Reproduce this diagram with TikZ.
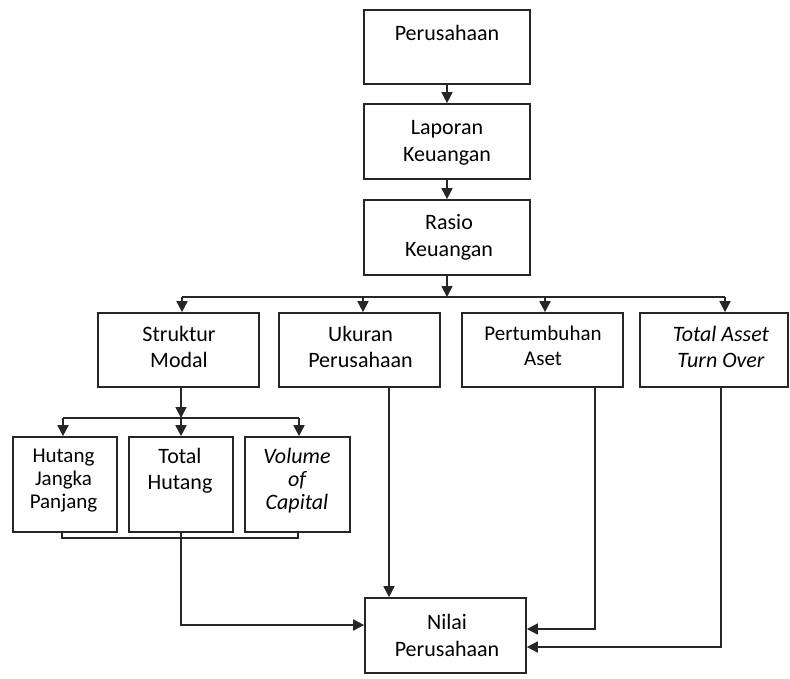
\documentclass[tikz,border=0pt]{standalone}
\usepackage{fontspec}
\setmainfont{Carlito}
\usetikzlibrary{arrows.meta,fit}
\begin{document}
\begin{tikzpicture}[x=1pt,y=-1pt,
  box/.style={draw=black!85, line width=1.7pt, inner sep=0pt, rectangle},
  txt/.style={align=center, inner sep=0pt, font=\fontsize{22}{27}\selectfont},
  txtb/.style={align=center, inner sep=0pt, font=\fontsize{22}{26}\selectfont},
  txts/.style={align=center, inner sep=0pt, font=\fontsize{21}{23}\selectfont},
  conn/.style={draw=black!85, line width=1.7pt},
  arr/.style={conn, -{Triangle[length=11pt,width=11pt]}}]
\useasboundingbox[fill=white] (0,0) rectangle (790,678);
% boxes
\node[box, fit={(364,10) (530,84)}] (per) {};
\node[box, fit={(364,104) (530,179)}] (lap) {};
\node[box, fit={(364,200) (530,275)}] (ras) {};
\node[box, fit={(98,313) (259,387)}] (sm) {};
\node[box, fit={(279,313) (440,387)}] (uk) {};
\node[box, fit={(462,313) (623,387)}] (pa) {};
\node[box, fit={(640,313) (788,387)}] (ta) {};
\node[box, fit={(13,437) (117,532)}] (hj) {};
\node[box, fit={(129,437) (233,532)}] (th) {};
\node[box, fit={(245,437) (350,532)}] (vc) {};
\node[box, fit={(365,598) (526,673)}] (np) {};
% texts
\node[txt] (per-t) at (447,33) {Perusahaan};
\node[txt] (lap-t) at (447,142.5) {Laporan\\Keuangan};
\node[txt] (ras-t) at (449,237.5) {Rasio\\Keuangan};
\node[txtb] (sm-t) at (179,347) {Struktur\\Modal};
\node[txtb] (uk-t) at (360.5,347) {Ukuran\\Perusahaan};
\node[txtb, font=\fontsize{21}{25}\selectfont] (pa-t) at (543,345.5) {Pertumbuhan\\Aset};
\node[txtb, font=\fontsize{22}{26}\selectfont\itshape] (ta-t) at (721,347) {Total Asset\\Turn Over};
\node[txts] (hj-t) at (63.5,481) {Hutang\\Jangka\\Panjang};
\node[txts, font=\fontsize{22}{26}\selectfont] (th-t) at (180,471) {Total\\Hutang};
\node[txts, font=\fontsize{22}{23}\selectfont\itshape] (vc-t) at (297,481) {Volume\\of\\Capital};
\node[txt] (np-t) at (447,635.5) {Nilai\\Perusahaan};
% coordinates
\coordinate (bus) at (447,297);
\coordinate (bl) at (182,297);
\coordinate (bu) at (363,297);
\coordinate (bp) at (545,297);
\coordinate (bt) at (725,297);
\coordinate (sbus) at (181,418);
\coordinate (sl) at (63,418);
\coordinate (sr) at (299,418);
\coordinate (brl) at (62,538);
\coordinate (brr) at (298,538);
\coordinate (thl) at (181,625);
\coordinate (pac) at (595,629);
\coordinate (tac) at (721,647);
% connectors
\draw[arr] (per.south -| per-t) -- (lap.north -| per-t);
\draw[arr] (lap.south -| per-t) -- (ras.north -| per-t);
\draw[arr] (ras.south -| bus) -- (bus);
\draw[conn] (bl) -- (bt);
\draw[arr] (bl) -- (bl |- sm.north);
\draw[arr] (bu) -- (bu |- uk.north);
\draw[arr] (bp) -- (bp |- pa.north);
\draw[arr] (bt) -- (bt |- ta.north);
\draw[arr] (sm.south -| sbus) -- (sbus);
\draw[conn] (sl) -- (sr);
\draw[arr] (sl) -- (sl |- hj.north);
\draw[arr] (sbus) -- (sbus |- th.north);
\draw[arr] (sr) -- (sr |- vc.north);
\draw[conn] (hj.south -| brl) -- (brl) -- (brr) -- (vc.south -| brr);
\draw[arr] (th.south -| thl) -- (thl) -- (np.west |- thl);
\draw[arr] (uk.south -| 389,0) -- (np.north -| 389,0);
\draw[arr] (pa.south -| pac) -- (pac) -- (np.east |- pac);
\draw[arr] (ta.south -| tac) -- (tac) -- (np.east |- tac);
\end{tikzpicture}
\end{document}
